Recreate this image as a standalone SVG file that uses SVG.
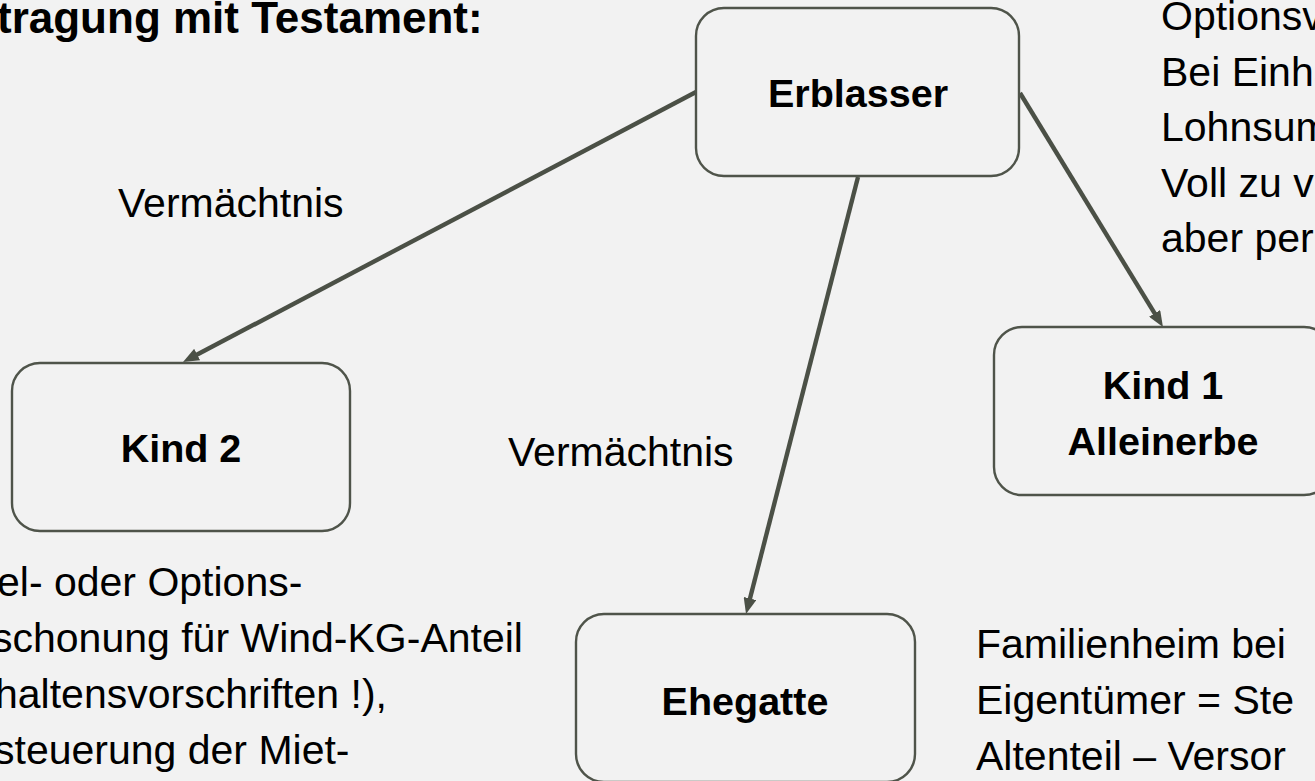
<svg xmlns="http://www.w3.org/2000/svg" width="1315" height="781" viewBox="0 0 1315 781">
  <style>
    .box { fill: #f2f2f2; stroke: #4f544a; stroke-width: 2.4; }
    .lbl { font-family: "Liberation Sans", Arial, sans-serif; font-weight: bold; font-size: 39.5px; fill: #000; text-anchor: middle; }
    .txt { font-family: "Liberation Sans", Arial, sans-serif; font-size: 41px; fill: #000; }
    .title { font-family: "Liberation Sans", Arial, sans-serif; font-weight: bold; font-size: 44px; fill: #000; }
    .conn { stroke: #4b5046; stroke-width: 4.4; fill: none; marker-end: url(#arr); }
  </style>
  <defs>
    <marker id="arr" viewBox="0 0 16 13" refX="8" refY="6.5" markerWidth="16" markerHeight="13" markerUnits="userSpaceOnUse" orient="auto">
      <path d="M0,0 L16,6.5 L0,13 z" fill="#4b5046"/>
    </marker>
  </defs>
  <rect width="1315" height="781" fill="#f2f2f2"/>

  <text class="title" x="-3" y="33">tragung mit Testament:</text>

  <g id="connectors">
    <line class="conn" x1="696" y1="92" x2="190.1" y2="358.3"/>
    <line class="conn" x1="858" y1="177" x2="748" y2="606.3"/>
    <line class="conn" x1="1020" y1="93" x2="1158.8" y2="320.2"/>
  </g>

  <g id="erblasser">
    <rect class="box" x="696" y="8" width="323" height="168" rx="28"/>
    <text class="lbl" x="858" y="107">Erblasser</text>
  </g>
  <g id="kind2">
    <rect class="box" x="12" y="363" width="338" height="168" rx="28"/>
    <text class="lbl" x="181" y="462">Kind 2</text>
  </g>
  <g id="kind1">
    <rect class="box" x="994" y="327" width="338" height="168" rx="28"/>
    <text class="lbl" x="1163" y="399">Kind 1</text>
    <text class="lbl" x="1163" y="455">Alleinerbe</text>
  </g>
  <g id="ehegatte">
    <rect class="box" x="576" y="614" width="339" height="168" rx="28"/>
    <text class="lbl" x="745" y="715">Ehegatte</text>
  </g>

  <g id="labels">
    <text class="txt" x="118" y="217">Vermächtnis</text>
    <text class="txt" x="508" y="466">Vermächtnis</text>
  </g>

  <g id="note-top-right">
    <text class="txt" x="1161" y="30">Optionsv</text>
    <text class="txt" x="1161" y="86">Bei Einha</text>
    <text class="txt" x="1161" y="141">Lohnsum</text>
    <text class="txt" x="1161" y="197">Voll zu v</text>
    <text class="txt" x="1161" y="252">aber per</text>
  </g>

  <g id="note-bottom-left">
    <text class="txt" x="-3" y="596">el- oder Options-</text>
    <text class="txt" x="-8" y="652">schonung für Wind-KG-Anteil</text>
    <text class="txt" x="-5" y="708">haltensvorschriften !),</text>
    <text class="txt" x="-6" y="764">steuerung der Miet-</text>
  </g>

  <g id="note-bottom-right">
    <text class="txt" x="976" y="658">Familienheim bei</text>
    <text class="txt" x="976" y="714">Eigentümer = Ste</text>
    <text class="txt" x="976" y="770">Altenteil – Versor</text>
  </g>
</svg>
